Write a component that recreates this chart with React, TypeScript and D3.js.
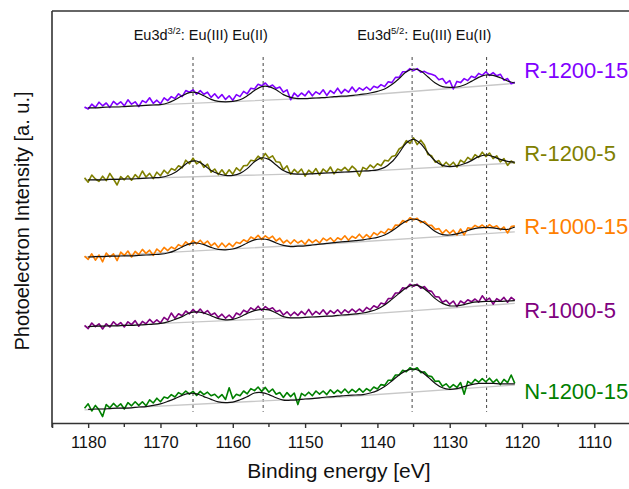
import React, { useEffect, useRef } from "react";
import * as d3 from "d3";

// energy grids (eV): measured spectra every 0.5 eV, fitted envelopes every 1 eV
const dataStart = 1180.5;
const dataStep = 0.5;
const fitStart = 1180;
const fitStep = 1;
const baselineEnergy = [1180.5, 1145, 1121];

const xTicks = [1180, 1170, 1160, 1150, 1140, 1130, 1120, 1110];
const xMinorTicks = [1185, 1175, 1165, 1155, 1145, 1135, 1125, 1115];
const peakPositions = [1165.5, 1155.8, 1135.2, 1124.9];

const seriesNames = ["R-1200-15", "R-1200-5", "R-1000-15", "R-1000-5", "N-1200-15"];
const seriesColors = ["#8000ff", "#808000", "#ff8000", "#800080", "#008000"];

// stacked intensities (a.u.)
const dataR1200_15 = [
  79.0, 78.5, 79.7, 78.9, 80.2, 79.3, 80.0, 78.9, 80.4, 79.6,
  80.3, 79.3, 80.8, 79.7, 80.3, 79.1, 80.6, 80.1, 81.3, 79.9,
  80.7, 79.8, 81.3, 80.6, 81.6, 81.1, 82.3, 81.6, 83.1, 82.7,
  83.3, 82.2, 83.1, 82.2, 82.7, 81.4, 82.3, 81.2, 82.1, 80.9,
  81.8, 80.7, 82.1, 81.6, 82.9, 82.3, 83.7, 83.5, 84.7, 84.3,
  85.0, 84.0, 84.5, 83.6, 84.0, 82.7, 83.3, 80.8, 82.5, 81.6,
  82.5, 81.8, 83.0, 81.8, 82.8, 82.2, 83.3, 81.9, 83.1, 82.4,
  83.7, 82.4, 83.4, 82.7, 84.0, 82.8, 83.8, 83.2, 84.0, 83.2,
  84.2, 83.8, 84.6, 84.1, 85.3, 85.1, 86.4, 86.4, 87.8, 87.8,
  88.6, 88.1, 88.6, 87.7, 87.9, 87.4, 87.2, 86.8, 85.8, 86.1,
  84.9, 85.6, 83.5, 85.4, 85.1, 86.1, 85.6, 86.7, 86.3, 87.4,
  86.9, 87.8, 86.9, 87.6, 86.8, 87.2, 85.7, 86.1, 84.8, 85.2,
];
const dataR1200_5 = [
  61.3, 60.2, 62.0, 61.0, 60.4, 61.7, 60.6, 62.4, 61.0, 59.5,
  61.6, 60.8, 61.8, 60.7, 62.1, 61.2, 63.0, 61.5, 62.4, 61.1,
  62.7, 61.8, 63.2, 62.3, 63.6, 63.2, 64.3, 63.8, 65.7, 64.8,
  66.2, 64.8, 65.4, 63.9, 64.7, 62.7, 63.5, 62.1, 63.3, 62.0,
  63.3, 62.2, 63.8, 63.0, 64.3, 64.4, 65.7, 65.5, 66.7, 65.9,
  67.4, 66.2, 66.8, 65.3, 65.2, 63.3, 64.3, 62.2, 63.4, 62.5,
  63.5, 61.7, 63.2, 62.4, 63.6, 62.0, 63.5, 62.7, 64.0, 62.3,
  63.5, 63.1, 63.9, 63.0, 64.2, 63.4, 61.7, 63.9, 63.4, 64.5,
  63.8, 64.8, 64.3, 65.7, 65.5, 66.6, 66.9, 68.5, 69.1, 70.6,
  69.9, 71.3, 69.6, 70.7, 69.5, 67.1, 66.8, 65.2, 65.6, 64.2,
  65.2, 64.3, 65.2, 64.0, 65.7, 65.1, 66.4, 65.7, 67.1, 66.4,
  67.7, 66.6, 67.5, 66.1, 66.8, 65.3, 66.1, 64.4, 65.5, 64.9,
];
const dataR1000_15 = [
  41.7, 40.9, 42.3, 40.7, 42.0, 40.3, 42.5, 41.5, 42.3, 40.6,
  42.7, 41.9, 43.0, 41.5, 42.9, 42.1, 43.4, 42.4, 43.2, 41.9,
  43.5, 42.7, 43.9, 43.1, 44.0, 43.5, 44.6, 44.1, 45.3, 44.5,
  45.6, 44.8, 45.7, 44.7, 45.5, 44.3, 45.0, 43.9, 45.0, 44.0,
  44.9, 44.1, 45.2, 44.9, 45.8, 45.3, 46.5, 46.0, 46.9, 45.9,
  46.8, 46.1, 46.7, 45.5, 46.2, 45.0, 45.7, 44.8, 45.8, 45.0,
  45.6, 44.7, 45.9, 45.1, 45.8, 45.0, 46.2, 45.6, 46.3, 45.3,
  46.3, 45.8, 46.8, 45.7, 46.7, 46.2, 47.2, 46.2, 47.1, 46.3,
  47.6, 47.0, 47.9, 47.4, 48.5, 48.2, 49.5, 49.4, 50.6, 50.2,
  51.3, 50.8, 51.2, 50.1, 50.4, 49.5, 49.4, 48.4, 48.6, 47.4,
  48.3, 47.4, 48.2, 47.0, 48.5, 47.0, 48.8, 48.6, 49.4, 48.9,
  49.5, 48.7, 49.6, 48.9, 49.3, 48.3, 49.0, 47.5, 49.1, 49.3,
];
const dataR1000_5 = [
  24.4, 23.6, 25.0, 24.1, 24.8, 23.5, 24.8, 24.0, 25.3, 24.4,
  25.1, 24.0, 25.3, 24.6, 25.6, 24.2, 25.4, 24.8, 25.9, 25.0,
  25.8, 25.0, 26.4, 25.7, 27.5, 26.2, 27.3, 26.8, 28.0, 27.3,
  28.4, 27.5, 28.5, 27.4, 28.1, 27.0, 27.5, 26.4, 27.2, 26.2,
  27.0, 26.1, 27.5, 27.0, 28.2, 27.7, 28.8, 28.2, 29.2, 28.2,
  29.1, 28.4, 28.8, 27.8, 28.2, 27.0, 27.8, 26.8, 27.7, 26.9,
  27.9, 27.1, 28.4, 27.0, 27.9, 27.2, 28.3, 27.1, 28.1, 27.4,
  28.3, 27.3, 28.3, 27.6, 28.5, 27.7, 28.5, 27.8, 28.9, 28.3,
  29.3, 28.8, 30.0, 29.7, 31.1, 31.2, 32.5, 32.5, 33.8, 33.6,
  34.7, 34.2, 34.7, 33.7, 34.1, 33.1, 32.9, 31.6, 31.5, 30.2,
  30.7, 29.7, 30.5, 29.1, 30.5, 29.9, 30.8, 30.3, 31.0, 30.2,
  31.8, 30.6, 31.2, 29.7, 31.1, 30.5, 31.4, 30.2, 31.4, 30.7,
];
const dataN1200_15 = [
  3.7, 4.8, 3.0, 4.4, 3.3, 1.6, 4.6, 3.8, 4.9, 4.0,
  4.8, 3.5, 5.1, 4.3, 5.3, 4.4, 5.3, 4.3, 5.8, 5.0,
  6.2, 5.3, 6.5, 6.2, 7.1, 6.5, 7.6, 7.1, 8.0, 7.2,
  7.9, 6.9, 7.9, 7.1, 7.7, 6.8, 7.2, 6.3, 7.1, 5.9,
  8.8, 6.1, 7.2, 6.8, 8.0, 7.3, 8.6, 8.1, 9.0, 7.9,
  8.9, 7.7, 8.5, 7.2, 7.6, 6.4, 7.6, 6.6, 7.5, 4.6,
  7.4, 6.8, 7.7, 6.8, 8.0, 7.2, 8.0, 7.1, 8.3, 7.4,
  8.2, 7.5, 8.5, 7.5, 8.4, 7.7, 8.6, 7.7, 8.6, 8.0,
  9.0, 8.5, 9.6, 9.4, 10.7, 10.7, 12.0, 12.0, 13.2, 12.8,
  13.8, 13.3, 13.8, 12.6, 12.8, 11.8, 11.6, 10.4, 10.5, 9.2,
  9.8, 8.8, 9.6, 8.9, 10.1, 7.2, 10.4, 9.8, 10.9, 10.2,
  11.1, 10.3, 11.2, 10.1, 10.9, 9.6, 10.9, 10.1, 12.0, 9.9,
];

// fitted envelopes (a.u.), 1180 -> 1121 eV
const fitR1200_15 = [
  78.8, 78.8, 78.9, 79.0, 79.0, 79.1, 79.2, 79.3, 79.4, 79.5,
  79.6, 80.0, 80.8, 81.8, 82.6, 82.6, 81.8, 80.9, 80.4, 80.3,
  80.4, 80.8, 81.8, 83.1, 84.1, 84.1, 83.3, 82.1, 81.4, 81.1,
  81.1, 81.2, 81.3, 81.4, 81.6, 81.7, 81.8, 82.0, 82.2, 82.5,
  82.9, 83.5, 84.6, 86.1, 87.8, 88.5, 88.0, 86.5, 85.0, 84.1,
  83.9, 84.0, 84.5, 85.4, 86.4, 87.0, 86.9, 86.3, 85.5, 85.0,
];
const fitR1200_5 = [
  60.8, 60.8, 60.8, 60.9, 60.9, 61.0, 61.0, 61.1, 61.2, 61.3,
  61.4, 61.8, 62.6, 64.0, 65.3, 65.5, 64.5, 63.1, 62.3, 61.9,
  61.9, 62.4, 63.6, 65.3, 66.3, 65.9, 64.5, 63.1, 62.4, 62.2,
  62.2, 62.3, 62.4, 62.5, 62.6, 62.7, 62.8, 62.9, 63.0, 63.1,
  63.3, 63.9, 65.3, 67.5, 70.0, 70.9, 69.8, 67.5, 65.5, 64.4,
  64.1, 64.3, 64.8, 65.6, 66.6, 67.0, 66.6, 65.9, 65.4, 65.2,
];
const fitR1000_15 = [
  41.5, 41.6, 41.6, 41.7, 41.7, 41.8, 41.8, 41.9, 42.0, 42.1,
  42.2, 42.5, 43.1, 44.0, 44.8, 45.0, 44.6, 43.9, 43.4, 43.3,
  43.5, 44.1, 45.0, 45.8, 46.0, 45.8, 45.0, 44.4, 44.1, 44.2,
  44.3, 44.5, 44.7, 44.9, 45.1, 45.3, 45.4, 45.6, 45.8, 46.1,
  46.4, 47.0, 48.0, 49.3, 50.5, 51.0, 50.5, 49.3, 47.9, 47.1,
  47.0, 47.3, 47.8, 48.4, 48.8, 48.9, 48.8, 48.5, 48.4, 49.0,
];
const fitR1000_5 = [
  24.1, 24.2, 24.2, 24.3, 24.3, 24.4, 24.4, 24.5, 24.6, 24.7,
  24.9, 25.3, 25.9, 26.6, 27.5, 27.8, 27.5, 26.8, 26.1, 25.8,
  25.9, 26.5, 27.4, 28.1, 28.4, 28.3, 27.5, 26.6, 26.3, 26.3,
  26.4, 26.5, 26.6, 26.7, 26.8, 27.0, 27.1, 27.3, 27.5, 27.9,
  28.5, 29.5, 30.9, 32.4, 33.8, 34.5, 34.1, 32.8, 31.1, 29.9,
  29.3, 29.3, 29.6, 30.1, 30.3, 30.4, 30.4, 30.4, 30.5, 30.6,
];
const fitN1200_15 = [
  3.4, 3.5, 3.5, 3.6, 3.7, 3.7, 3.8, 4.0, 4.1, 4.4,
  4.8, 5.4, 6.1, 6.9, 7.4, 7.3, 6.6, 5.9, 5.3, 5.1,
  5.2, 5.8, 6.6, 7.5, 7.6, 7.1, 6.3, 5.7, 5.7, 5.8,
  6.0, 6.1, 6.3, 6.5, 6.6, 6.8, 6.9, 7.0, 7.1, 7.5,
  8.1, 9.1, 10.5, 12.0, 13.1, 13.5, 12.9, 11.5, 9.9, 8.8,
  8.4, 8.6, 9.1, 9.6, 9.9, 9.9, 9.9, 9.8, 9.8, 9.8,
];

// background lines at baselineEnergy
const baseR1200_15 = [78.8, 81.5, 84.9];
const baseR1200_5 = [60.8, 62.6, 65.0];
const baseR1000_15 = [41.5, 45.0, 47.8];
const baseR1000_5 = [24.1, 26.8, 29.9];
const baseN1200_15 = [3.3, 6.5, 9.5];

const spectra = [dataR1200_15, dataR1200_5, dataR1000_15, dataR1000_5, dataN1200_15];
const fits = [fitR1200_15, fitR1200_5, fitR1000_15, fitR1000_5, fitN1200_15];
const baselines = [baseR1200_15, baseR1200_5, baseR1000_15, baseR1000_5, baseN1200_15];

const W = 629;
const H = 489;
const margin = { top: 11, left: 52, bottom: 66 };
const font = "'Liberation Sans', Arial, sans-serif";

export default function App() {
  const svgRef = useRef<SVGSVGElement>(null);

  useEffect(() => {
    const svg = d3.select(svgRef.current);
    svg.selectAll("*").remove();

    const x = d3.scaleLinear().domain([1185, 1105]).range([margin.left, 630.5]);
    const y = d3.scaleLinear().domain([0, 103]).range([H - margin.bottom, margin.top]);

    // peak markers
    svg
      .append("g")
      .selectAll("line")
      .data(peakPositions)
      .join("line")
      .attr("x1", (d) => x(d))
      .attr("x2", (d) => x(d))
      .attr("y1", y(91.5))
      .attr("y2", y(2.8))
      .attr("stroke", "#444")
      .attr("stroke-width", 1)
      .attr("stroke-dasharray", "3,3");

    const baseLine = d3
      .line<number>()
      .x((_, i) => x(baselineEnergy[i]))
      .y((d) => y(d));
    const dataLine = d3
      .line<number>()
      .x((_, i) => x(dataStart - i * dataStep))
      .y((d) => y(d));
    const fitLine = d3
      .line<number>()
      .x((_, i) => x(fitStart - i * fitStep))
      .y((d) => y(d))
      .curve(d3.curveCatmullRom);

    baselines.forEach((b) => {
      svg.append("path").datum(b).attr("d", baseLine).attr("fill", "none")
        .attr("stroke", "#c8c8c8").attr("stroke-width", 1.3);
    });
    spectra.forEach((s, k) => {
      svg.append("path").datum(s).attr("d", dataLine).attr("fill", "none")
        .attr("stroke", seriesColors[k]).attr("stroke-width", 1.6)
        .attr("stroke-linejoin", "round");
    });
    fits.forEach((f) => {
      svg.append("path").datum(f).attr("d", fitLine).attr("fill", "none")
        .attr("stroke", "#111").attr("stroke-width", 1.2);
    });

    // series labels
    const labelY = [88.3, 67.5, 49.1, 28.3, 8.0];
    svg
      .append("g")
      .selectAll("text")
      .data(seriesNames)
      .join("text")
      .attr("x", x(1119.7))
      .attr("y", (_, i) => y(labelY[i]))
      .attr("dy", "0.35em")
      .attr("fill", (_, i) => seriesColors[i])
      .style("font-family", font)
      .style("font-size", "22px")
      .text((d) => d);

    // Eu3d annotations
    const notes = [
      { e: 1173.7, sup: "3/2" },
      { e: 1142.8, sup: "5/2" },
    ];
    notes.forEach((n) => {
      const t = svg
        .append("text")
        .attr("x", x(n.e))
        .attr("y", 40)
        .attr("fill", "#111")
        .style("font-family", font)
        .style("font-size", "14.5px");
      t.append("tspan").text("Eu3d");
      t.append("tspan").attr("dy", -6).style("font-size", "9.5px").text(n.sup);
      t.append("tspan").attr("dy", 6).text(": Eu(III) Eu(II)");
    });

    // frame
    const frame = svg.append("g").attr("stroke", "#333").attr("stroke-width", 1.6);
    frame.append("line").attr("x1", margin.left).attr("x2", W + 2)
      .attr("y1", margin.top).attr("y2", margin.top);
    frame.append("line").attr("x1", margin.left).attr("x2", margin.left)
      .attr("y1", margin.top).attr("y2", H - margin.bottom);

    // bottom axis
    const axis = svg
      .append("g")
      .attr("transform", `translate(0,${H - margin.bottom})`)
      .call(d3.axisBottom(x).tickValues(xTicks).tickSize(5).tickPadding(8).tickFormat(d3.format("d")));
    axis.select(".domain").attr("stroke", "#333").attr("stroke-width", 1.6);
    axis.selectAll(".tick line").attr("stroke", "#333").attr("stroke-width", 1.4);
    axis.selectAll("text").attr("fill", "#111").style("font-family", font).style("font-size", "16.5px");
    axis
      .selectAll(".minor")
      .data(xMinorTicks)
      .join("line")
      .attr("class", "minor")
      .attr("x1", (d) => x(d))
      .attr("x2", (d) => x(d))
      .attr("y1", 0)
      .attr("y2", 4)
      .attr("stroke", "#333")
      .attr("stroke-width", 1.4);

    svg
      .append("text")
      .attr("x", 339)
      .attr("y", 478)
      .attr("text-anchor", "middle")
      .attr("fill", "#111")
      .style("font-family", font)
      .style("font-size", "21px")
      .text("Binding energy [eV]");

    svg
      .append("text")
      .attr("transform", "translate(29,221) rotate(-90)")
      .attr("text-anchor", "middle")
      .attr("fill", "#111")
      .style("font-family", font)
      .style("font-size", "20px")
      .text("Photoelectron Intensity [a. u.]");
  }, []);

  return (
    <svg
      ref={svgRef}
      width={W}
      height={H}
      style={{ position: "absolute", left: 0, top: 0, background: "#fff" }}
    />
  );
}
